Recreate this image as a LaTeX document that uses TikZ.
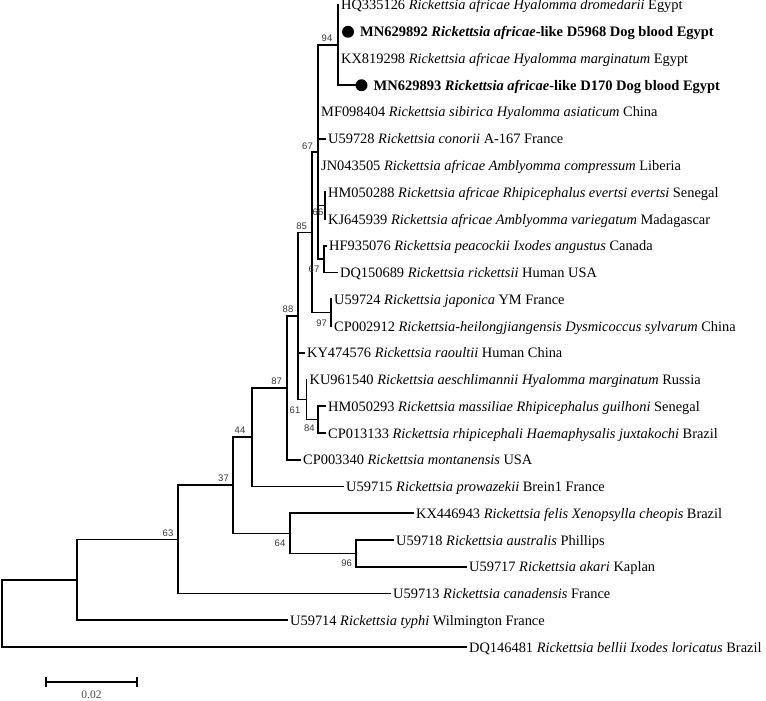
\documentclass[tikz,border=0pt]{standalone}
\usepackage{fontspec}
\setmainfont{Liberation Serif}
\newfontfamily\bsfont{Liberation Sans}
\usetikzlibrary{calc}
\tikzset{
  br/.style={line width=1.6pt, line join=miter, line cap=rect},
  leaf/.style={anchor=base west, inner sep=0pt, font=\fontsize{14.4}{16}\selectfont},
  bleaf/.style={anchor=base west, inner sep=0pt, font=\fontsize{14.5}{16}\selectfont\bfseries},
  bullet/.style={circle, fill=black, inner sep=0pt, minimum size=12pt},
  bs/.style={inner sep=0pt, text=black!78, font=\bsfont\fontsize{9.5}{11}\selectfont},
  sclab/.style={anchor=base, inner sep=0pt, text=black!70, font=\fontsize{11.5}{12}\selectfont}
}
\begin{document}
\begin{tikzpicture}[x=1pt,y=-1pt]
\fill[white] (0,0) rectangle (766,701);
\useasboundingbox (0,0) rectangle (766,701);
% internal nodes
\coordinate (n94)  at (338,45.13);
\coordinate (n66)  at (325,205.63);
\coordinate (n67b) at (324,259.13);
\coordinate (n67)  at (318,152.13);
\coordinate (n97)  at (331,312.63);
\coordinate (n85)  at (312,232.38);
\coordinate (n84)  at (318,419.63);
\coordinate (n61)  at (306.5,399.56);
\coordinate (n88)  at (298,315.97);
\coordinate (n87)  at (287,387.86);
\coordinate (n44)  at (252,437.18);
\coordinate (n96)  at (356,553.38);
\coordinate (n64)  at (290,533.31);
\coordinate (n37)  at (233,485.25);
\coordinate (n63)  at (178,539.37);
\coordinate (n1)   at (77,579.81);
\coordinate (root) at (2,613.4);
% leaf ends
\coordinate (l1)  at (338,5);
\coordinate (l2)  at (338,31.75);
\coordinate (l3)  at (338,58.5);
\coordinate (l4)  at (355,85.25);
\coordinate (l5)  at (318,112);
\coordinate (l6)  at (325,138.75);
\coordinate (l7)  at (318,165.5);
\coordinate (l8)  at (325,192.25);
\coordinate (l9)  at (325,219);
\coordinate (l10) at (326,245.75);
\coordinate (l11) at (337,272.5);
\coordinate (l12) at (331,299.25);
\coordinate (l13) at (331,326);
\coordinate (l14) at (304,352.75);
\coordinate (l15) at (306.5,379.5);
\coordinate (l16) at (325,406.25);
\coordinate (l17) at (325,433);
\coordinate (l18) at (300,459.75);
\coordinate (l19) at (343,486.5);
\coordinate (l20) at (413,513.25);
\coordinate (l21) at (393,540);
\coordinate (l22) at (466,566.75);
\coordinate (l23) at (390,593.5);
\coordinate (l24) at (287,620.25);
\coordinate (l25) at (466,647);
% branches
\draw[br] (n94) |- (l1);
\draw[br] (n94) |- (l2);
\draw[br] (n94) |- (l3);
\draw[br] (n94) |- (l4);
\draw[br] (n67) |- (n94);
\draw[br] (n67) |- (l5);
\draw[br] (n67) |- (l6);
\draw[br] (n67) |- (l7);
\draw[br] (n67) |- (n66);
\draw[br] (n67) |- (n67b);
\draw[br] (n66) |- (l8);
\draw[br] (n66) |- (l9);
\draw[br] (n67b) |- (l10);
\draw[br] (n67b) |- (l11);
\draw[br] (n97) |- (l12);
\draw[br] (n97) |- (l13);
\draw[br] (n85) |- (n67);
\draw[br] (n85) |- (n97);
\draw[br] (n84) |- (l16);
\draw[br] (n84) |- (l17);
\draw[br] (n61) |- (l15);
\draw[br] (n61) |- (n84);
\draw[br] (n88) |- (n85);
\draw[br] (n88) |- (l14);
\draw[br] (n88) |- (n61);
\draw[br] (n87) |- (n88);
\draw[br] (n87) |- (l18);
\draw[br] (n44) |- (n87);
\draw[br] (n44) |- (l19);
\draw[br] (n96) |- (l21);
\draw[br] (n96) |- (l22);
\draw[br] (n64) |- (l20);
\draw[br] (n64) |- (n96);
\draw[br] (n37) |- (n44);
\draw[br] (n37) |- (n64);
\draw[br] (n63) |- (n37);
\draw[br] (n63) |- (l23);
\draw[br] (n1) |- (n63);
\draw[br] (n1) |- (l24);
\draw[br] (root) |- (n1);
\draw[br] (root) |- (l25);
% leaf labels
\node[leaf] (t1) at ($(l1)+(3,5)$) {HQ335126 \textit{Rickettsia africae Hyalomma dromedarii} Egypt};
\node[bullet] (b2) at ($(l2)+(10,0)$) {};
\node[bleaf] (t2) at ($(b2)+(12,5)$) {MN629892 \textit{Rickettsia africae}-like D5968 Dog blood Egypt};
\node[leaf] (t3) at ($(l3)+(3,5)$) {KX819298 \textit{Rickettsia africae Hyalomma marginatum} Egypt};
\node[bullet] (b4) at ($(l4)+(6.5,0)$) {};
\node[bleaf] (t4) at ($(b4)+(12,5)$) {MN629893 \textit{Rickettsia africae}-like D170 Dog blood Egypt};
\node[leaf] (t5) at ($(l5)+(3,5)$) {MF098404 \textit{Rickettsia sibirica Hyalomma asiaticum} China};
\node[leaf] (t6) at ($(l6)+(3,5)$) {U59728 \textit{Rickettsia conorii} A-167 France};
\node[leaf] (t7) at ($(l7)+(3,5)$) {JN043505 \textit{Rickettsia africae Amblyomma compressum} Liberia};
\node[leaf] (t8) at ($(l8)+(3,5)$) {HM050288 \textit{Rickettsia africae Rhipicephalus evertsi evertsi} Senegal};
\node[leaf] (t9) at ($(l9)+(3,5)$) {KJ645939 \textit{Rickettsia africae Amblyomma variegatum} Madagascar};
\node[leaf] (t10) at ($(l10)+(3,5)$) {HF935076 \textit{Rickettsia peacockii Ixodes angustus} Canada};
\node[leaf] (t11) at ($(l11)+(3,5)$) {DQ150689 \textit{Rickettsia rickettsii} Human USA};
\node[leaf] (t12) at ($(l12)+(3,5)$) {U59724 \textit{Rickettsia japonica} YM France};
\node[leaf] (t13) at ($(l13)+(3,5)$) {CP002912 \textit{Rickettsia-heilongjiangensis Dysmicoccus sylvarum} China};
\node[leaf] (t14) at ($(l14)+(3,5)$) {KY474576 \textit{Rickettsia raoultii} Human China};
\node[leaf] (t15) at ($(l15)+(3,5)$) {KU961540 \textit{Rickettsia aeschlimannii Hyalomma marginatum} Russia};
\node[leaf] (t16) at ($(l16)+(3,5)$) {HM050293 \textit{Rickettsia massiliae Rhipicephalus guilhoni} Senegal};
\node[leaf] (t17) at ($(l17)+(3,5)$) {CP013133 \textit{Rickettsia rhipicephali Haemaphysalis juxtakochi} Brazil};
\node[leaf] (t18) at ($(l18)+(3,5)$) {CP003340 \textit{Rickettsia montanensis} USA};
\node[leaf] (t19) at ($(l19)+(3,5)$) {U59715 \textit{Rickettsia prowazekii} Brein1 France};
\node[leaf] (t20) at ($(l20)+(3,5)$) {KX446943 \textit{Rickettsia felis Xenopsylla cheopis} Brazil};
\node[leaf] (t21) at ($(l21)+(3,5)$) {U59718 \textit{Rickettsia australis} Phillips};
\node[leaf] (t22) at ($(l22)+(3,5)$) {U59717 \textit{Rickettsia akari} Kaplan};
\node[leaf] (t23) at ($(l23)+(3,5)$) {U59713 \textit{Rickettsia canadensis} France};
\node[leaf] (t24) at ($(l24)+(3,5)$) {U59714 \textit{Rickettsia typhi} Wilmington France};
\node[leaf] (t25) at ($(l25)+(3,5)$) {DQ146481 \textit{Rickettsia bellii Ixodes loricatus} Brazil};
% bootstrap values
\node[bs] (s94) at ($(n94)+(-11,-6.5)$) {94};
\node[bs] (s67) at ($(n67)+(-10.5,-6.3)$) {67};
\node[bs] (s85) at ($(n85)+(-10.3,-6.4)$) {85};
\node[bs] (s88) at ($(n88)+(-10,-6.5)$) {88};
\node[bs] (s87) at ($(n87)+(-10.3,-6.3)$) {87};
\node[bs] (s44) at ($(n44)+(-12,-7)$) {44};
\node[bs] (s37) at ($(n37)+(-9.5,-7)$) {37};
\node[bs] (s63) at ($(n63)+(-10,-6.5)$) {63};
\node[bs] (s66) at ($(n66)+(-7,6.5)$) {66};
\node[bs] (s67b) at ($(n67b)+(-10,10)$) {67};
\node[bs] (s97) at ($(n97)+(-9.3,10.5)$) {97};
\node[bs] (s61) at ($(n61)+(-11.5,10.4)$) {61};
\node[bs] (s84) at ($(n84)+(-8.7,8.7)$) {84};
\node[bs] (s64) at ($(n64)+(-10,10)$) {64};
\node[bs] (s96) at ($(n96)+(-9.3,10)$) {96};
% scale bar
\coordinate (sb1) at (46,682);
\coordinate (sb2) at (137,682);
\draw[br] (sb1) -- (sb2);
\draw[br] ($(sb1)+(0,-4)$) -- ($(sb1)+(0,4)$);
\draw[br] ($(sb2)+(0,-4)$) -- ($(sb2)+(0,4)$);
\node[sclab] (sbl) at ($(sb1)!0.5!(sb2)+(0,16.5)$) {0.02};
\end{tikzpicture}
\end{document}
